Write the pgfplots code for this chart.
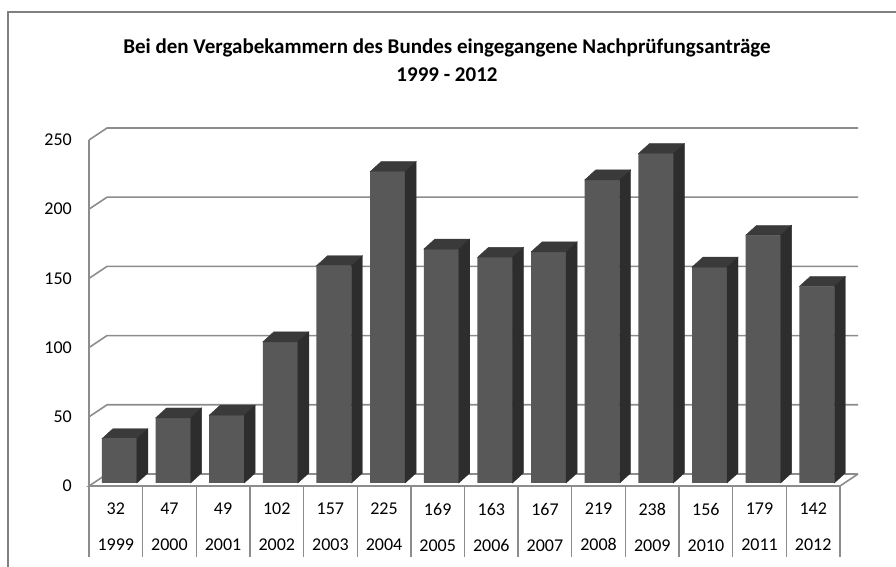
\documentclass[border=0pt]{standalone}
\usepackage{pgfplots}
\pgfplotsset{compat=1.18}
\usepackage{fontspec}
\setmainfont{Carlito}

\definecolor{barfront}{RGB}{88,88,88}
\definecolor{barside}{RGB}{45,45,45}
\definecolor{bartop}{RGB}{58,58,58}
\definecolor{gridc}{RGB}{140,140,140}
\definecolor{framec}{RGB}{128,128,128}

\pgfdeclareplotmark{emptymark}{}

\begin{document}
\begin{tikzpicture}[x=1pt,y=1pt]
\useasboundingbox (0,0) rectangle (896,567);
\draw[framec, line width=1.5pt] (897,555) -- (8,555) -- (8,-1);
\node[font=\bfseries\fontsize{21}{28}\selectfont, align=center] at (447,507)
  {Bei den Vergabekammern des Bundes eingegangene Nachprüfungsanträge\\1999 - 2012};
\begin{axis}[
  at={(92.6pt,84pt)}, anchor=south west,
  scale only axis, width=751pt, height=346pt,
  xmin=-0.5, xmax=13.5, ymin=0, ymax=250,
  clip=false,
  axis line style={draw=none},
  major tick length=0pt,
  ytick={0,50,...,250},
  xtick={0,...,13},
  xticklabels={{32\\1999},{47\\2000},{49\\2001},{102\\2002},{157\\2003},{225\\2004},{169\\2005},{163\\2006},{167\\2007},{219\\2008},{238\\2009},{156\\2010},{179\\2011},{142\\2012}},
  xticklabel style={align=center, font=\fontsize{18}{36}\selectfont, inner sep=0pt, anchor=north, xshift=-3.6pt, yshift=-20pt},
  every y tick label/.append style={font=\fontsize{18}{22}\selectfont, anchor=east, inner sep=0pt, yshift=-3pt},
  yticklabel shift=20.6pt,
  /pgf/number format/assume math mode=true,
]
% back wall grid lines with diagonal to the front axis
\pgfplotsinvokeforeach{50,100,150,200,250}{
  \draw[gridc, line width=1.6pt] ([shift={(-3.6pt,-3pt)}]axis cs:-0.5,#1) -- ([shift={(14.4pt,9pt)}]axis cs:-0.5,#1) -- ([shift={(14.4pt,9pt)}]axis cs:13.5,#1);
}
% floor
\draw[gridc, line width=1.6pt] ([shift={(14.4pt,9pt)}]axis cs:-0.5,0) -- ([shift={(14.4pt,9pt)}]axis cs:13.5,0);
\draw[gridc, line width=1.6pt] ([shift={(14.4pt,9pt)}]axis cs:-0.5,0) -- ([shift={(-3.6pt,-3pt)}]axis cs:-0.5,0) -- ([shift={(-3.6pt,-3pt)}]axis cs:13.5,0) -- ([shift={(14.4pt,9pt)}]axis cs:13.5,0);
% front vertical axis
\draw[gridc, line width=1.6pt] ([shift={(-3.6pt,-3pt)}]axis cs:-0.5,0) -- ([shift={(-3.6pt,-3pt)}]axis cs:-0.5,250);
% data table lines
\pgfplotsinvokeforeach{-0.5,0.5,...,13.5}{
  \draw[gridc, line width=1.3pt] ([shift={(-3.6pt,-3pt)}]axis cs:#1,0) -- ([shift={(-3.6pt,-74pt)}]axis cs:#1,0);
}
% bar fronts
\addplot[ybar, bar width=35pt, fill=barfront, draw=none] coordinates {
  (0,32) (1,47) (2,49) (3,102) (4,157) (5,225) (6,169) (7,163) (8,167) (9,219) (10,238) (11,156) (12,179) (13,142)};
% 3D top and side faces
\addplot[only marks, mark=emptymark, scatter,
  visualization depends on={rawy \as \rawy},
  scatter/@pre marker code/.code={
    \fill[bartop] (-17.5pt,0pt) -- (-6.5pt,10pt) -- (28.5pt,10pt) -- (17.5pt,0pt) -- cycle;
    \path (axis direction cs:0,-\rawy) coordinate (bb);
    \fill[barside] (17.5pt,0pt) -- (28.5pt,10pt) -- ([shift={(28.5pt,10pt)}]bb) -- ([shift={(17.5pt,0pt)}]bb) -- cycle;
  },
  scatter/@post marker code/.code={}] coordinates {
  (0,32) (1,47) (2,49) (3,102) (4,157) (5,225) (6,169) (7,163) (8,167) (9,219) (10,238) (11,156) (12,179) (13,142)};
\end{axis}
\end{tikzpicture}
\end{document}
